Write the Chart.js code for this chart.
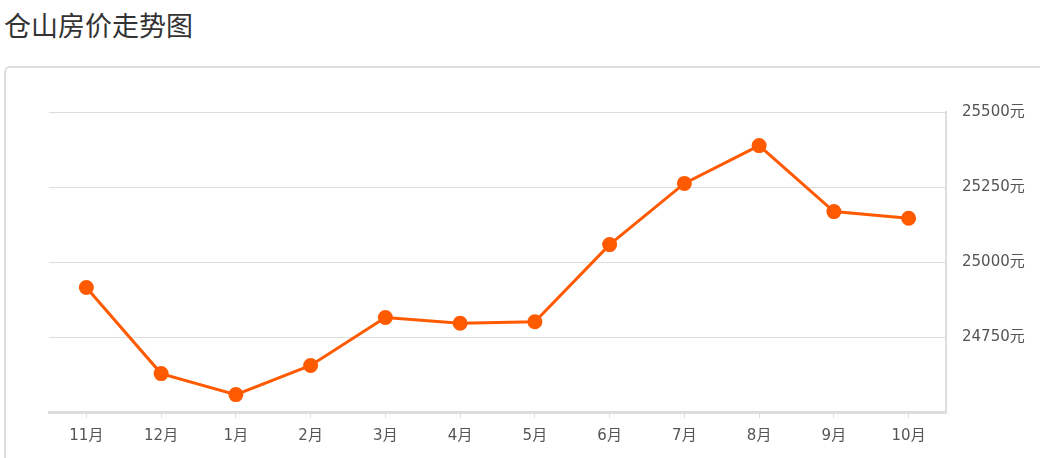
<!DOCTYPE html>
<html>
<head>
<meta charset="utf-8">
<script src="https://cdn.jsdelivr.net/npm/chart.js@4/dist/chart.umd.min.js"></script>
<style>
  body { margin: 0; background: #fff; font-family: "Noto Sans CJK SC", sans-serif; }
  #title { position: absolute; left: 4px; top: 5px; font-size: 27px; color: #333; margin: 0; font-weight: normal; }
  #box { position: absolute; left: 4px; top: 66px; width: 1100px; height: 500px; border: 2px solid #ddd; border-radius: 6px; }
  #wrap { position: absolute; left: 0; top: 0; width: 1040px; height: 458px; }
</style>
</head>
<body>
<h1 id="title">仓山房价走势图</h1>
<div id="box"></div>
<div id="wrap"><canvas id="priceChart"></canvas></div>
<script>
// Price trend
const months = ["11月", "12月", "1月", "2月", "3月", "4月", "5月", "6月", "7月", "8月", "9月", "10月"];
const prices = [24915, 24628, 24558, 24655, 24815, 24796, 24801, 25058, 25262, 25388, 25168, 25146];
const yTicks = [24500, 24750, 25000, 25250, 25500];

const tickFont = { size: 15, family: "'DejaVu Sans', 'Noto Sans CJK SC'" };

const priceCtx = document.getElementById("priceChart").getContext("2d");
new Chart(priceCtx, {
  type: "line",
  data: {
    labels: months,
    datasets: [
      {
        data: prices,
        borderColor: "#ff5a00",
        backgroundColor: "#ff5a00",
        borderWidth: 3,
        pointRadius: 6,
        pointHoverRadius: 6,
        tension: 0,
        fill: false,
      },
    ],
  },
  options: {
    responsive: true,
    maintainAspectRatio: false,
    animation: false,
    layout: { padding: { left: 49, top: 112, right: 0, bottom: 0 } },
    plugins: {
      legend: { display: false },
      tooltip: { enabled: false },
    },
    scales: {
      x: {
        offset: true,
        afterFit: (scale) => { scale.height = 46; },
        grid: { drawOnChartArea: false, drawTicks: true, tickLength: 6, color: "#ddd", lineWidth: 1 },
        border: { display: true, color: "#ddd", width: 3 },
        ticks: { color: "#555", font: tickFont, padding: 9 },
      },
      y: {
        position: "right",
        min: 24500,
        max: 25500,
        afterFit: (scale) => { scale.width = 94; },
        afterBuildTicks: (scale) => { scale.ticks = yTicks.map((v) => ({ value: v })); },
        grid: { color: "#ddd", drawTicks: false, lineWidth: 1 },
        border: { display: true, color: "#ddd", width: 2 },
        ticks: {
          color: "#555",
          font: tickFont,
          padding: 16,
          callback: (v) => (v === 24500 ? "" : v + "元"),
        },
      },
    },
  },
});
</script>
</body>
</html>
